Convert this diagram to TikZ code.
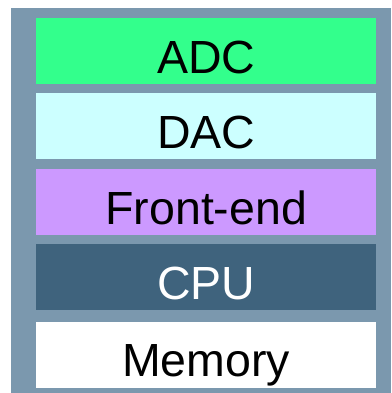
\documentclass[tikz,border=0pt]{standalone}
\usepackage{fontspec}
\setmainfont{Liberation Sans}
\definecolor{framegray}{HTML}{7B98AE}
\definecolor{adcgreen}{HTML}{33FF8C}
\definecolor{daccyan}{HTML}{CCFFFF}
\definecolor{felav}{HTML}{CC99FF}
\definecolor{cpublue}{HTML}{3F637D}
\tikzset{
  blockbox/.style={rectangle, draw=none, inner sep=0pt, minimum width=340pt, minimum height=66pt, anchor=south west},
  blocktext/.style={anchor=base, inner sep=0pt, font=\fontsize{46.5}{55}\selectfont},
}
\begin{document}
\begin{tikzpicture}[x=1pt,y=1pt]
\useasboundingbox (0,0) rectangle (391,393);
\node[rectangle, fill=framegray, inner sep=0pt, minimum width=380pt, minimum height=385pt, anchor=south west] (frame) at (11,0) {};
\node[blockbox, fill=adcgreen] (adc) at (36,309) {};
\node[blockbox, fill=daccyan] (dac) at (36,234) {};
\node[blockbox, fill=felav] (fe) at (36,158) {};
\node[blockbox, fill=cpublue] (cpu) at (36,83) {};
\node[blockbox, fill=white] (mem) at (36,5) {};
\node[blocktext] (adct) at ([yshift=10.5pt]adc.south) {ADC};
\node[blocktext] (dact) at ([yshift=10.5pt]dac.south) {DAC};
\node[blocktext] (fet) at ([yshift=10.5pt]fe.south) {Front-end};
\node[blocktext, text=white] (cput) at ([yshift=10pt]cpu.south) {CPU};
\node[blocktext] (memt) at ([yshift=11.5pt]mem.south) {Memory};
\end{tikzpicture}
\end{document}
